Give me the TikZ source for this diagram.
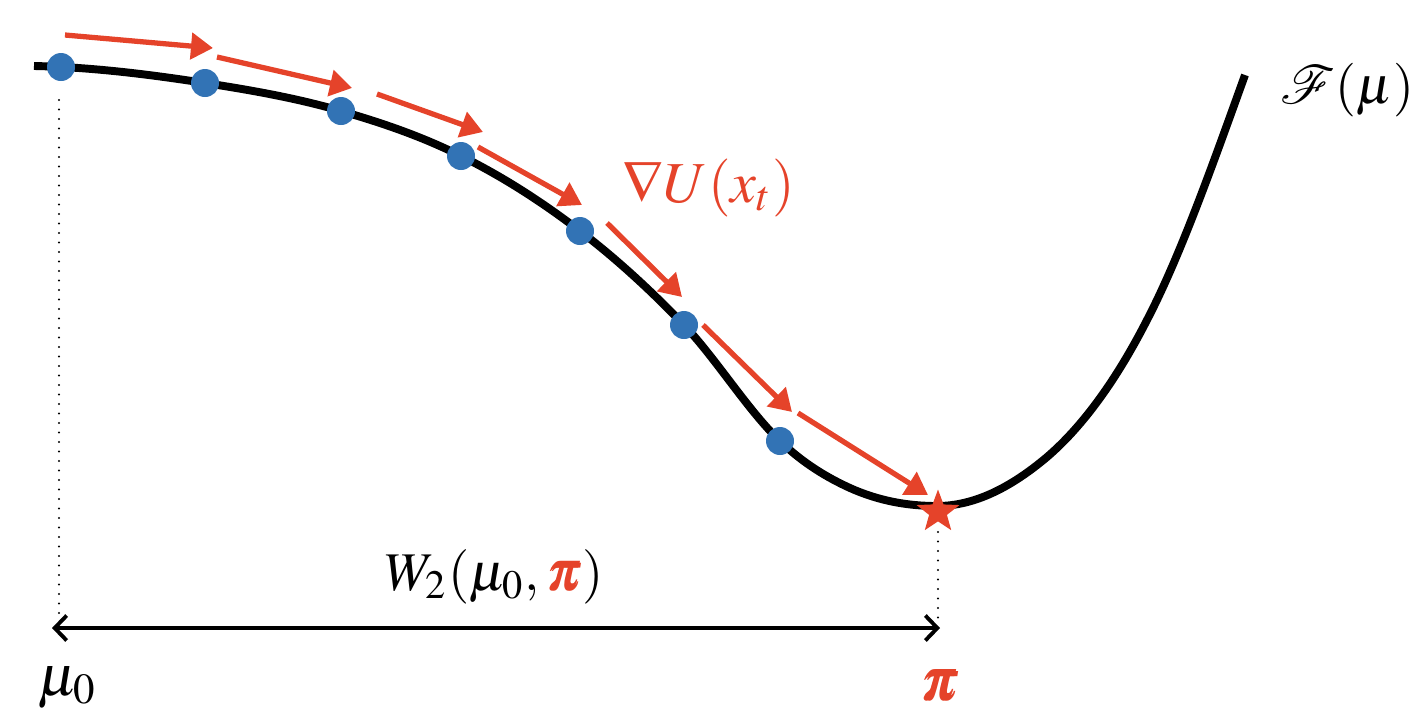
\documentclass[tikz,border=0pt]{standalone}
\usepackage{mathptmx}
\usepackage{mathrsfs}
\usepackage{bm}
\usetikzlibrary{arrows.meta,shapes.geometric,positioning}
\definecolor{flowred}{RGB}{229,67,42}
\definecolor{dotblue}{RGB}{50,115,181}
\tikzset{
  particle/.style={circle,fill=dotblue,inner sep=0pt,minimum size=5.6mm},
  gradstep/.style={flowred,line width=3pt,-{Triangle[length=4.4mm,width=5.2mm]}},
  guide/.style={line width=1.2pt,dash pattern=on 0pt off 1.9mm,line cap=round},
  bigmath/.style={inner sep=0pt},
}
\newcommand{\lbl}[2][3.3]{\scalebox{#1}{#2}}

\begin{document}
\begin{tikzpicture}[x=0.2mm,y=-0.2mm]
  \useasboundingbox (0,0) rectangle (1428,722);
  % the functional F(mu)
  \draw[line width=4.5pt] (34,66) .. controls (91,67.1) and (148,74.2) .. (205,83)
    .. controls (250,90) and (296,97.9) .. (341,111)
    .. controls (381,122.6) and (421,136) .. (461,156)
    .. controls (501,175.8) and (540,200.4) .. (580,231)
    .. controls (615,257.7) and (649,288.6) .. (684,325)
    .. controls (716,358.6) and (748,410.6) .. (780,441)
    .. controls (803,463.2) and (827,477.5) .. (850,488)
    .. controls (879,501) and (908,506) .. (937,506)
    .. controls (973.7,506) and (1010,488.2) .. (1047,457)
    .. controls (1080,428.7) and (1114,384.6) .. (1147,320)
    .. controls (1180,256.6) and (1212,166.5) .. (1245,75);
  % particles along the flow
  \foreach \x/\y [count=\i from 0] in {61/67,205/83,341/111,461/156,580/231,684/325,780/441}
    \node[particle] (p\i) at (\x,\y) {};
  \node[star,star points=5,star point ratio=2.4,fill=flowred,minimum size=9mm,inner sep=0pt] (pi) at (938,512) {};
  % gradient steps
  \foreach \xa/\ya/\xb/\yb [count=\i] in {65/35/213/48,217/57/352/88,377/94/483/132,
    478/147/582/205,607/223/682/297,703/325/792/412,798/413/928/495}{
    \coordinate (s\i) at (\xa,\ya);
    \coordinate (t\i) at (\xb,\yb);
    \draw[gradstep] (s\i) -- (t\i);
  }
  % distance
  \coordinate (g0) at (59,100);
  \coordinate (g1) at (59,618);
  \coordinate (h0) at (938,532);
  \coordinate (h1) at (938,618);
  \draw[guide] (g0) -- (g1);
  \draw[guide] (h0) -- (h1);
  \coordinate (wl) at (52,628);
  \coordinate (wr) at (940,628);
  \draw[line width=2.2pt,{Straight Barb[length=2.4mm,width=5mm]}-{Straight Barb[length=2.4mm,width=5mm]}] (wl) -- (wr);
  % labels
  \node[bigmath,anchor=base west,text=flowred] (grad) at (622,202) {\lbl{$\nabla U(x_t)$}};
  \node[bigmath,anchor=base west] (func) at (1280,103) {\lbl[3.05]{$\mathscr{F}(\mu)$}};
  \node[bigmath,anchor=base west] (dist) at (385,590) {\lbl[3.1]{$W_2(\mu_0, {\color{flowred}\bm{\pi}})$}};
  \node[bigmath,anchor=base west] (mu0) at (38,695) {\lbl{$\mu_0$}};
  \node[bigmath,anchor=base,text=flowred] (pilab) at (940,700) {\lbl{$\bm{\pi}$}};
\end{tikzpicture}
\end{document}
